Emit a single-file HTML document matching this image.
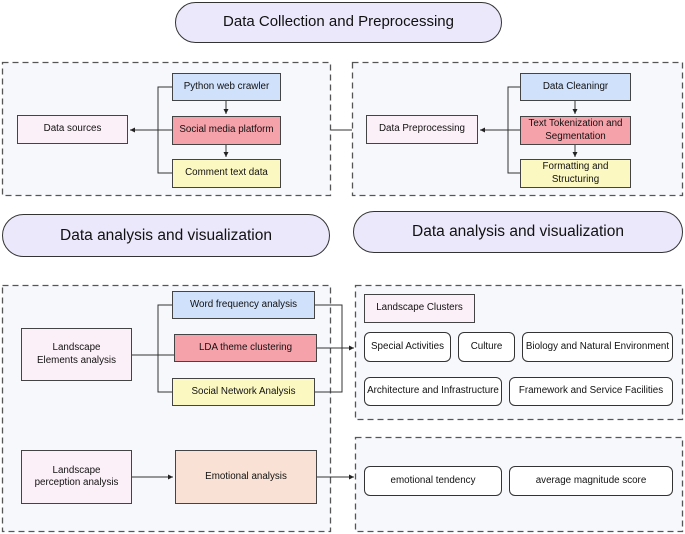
<!DOCTYPE html>
<html><head><meta charset="utf-8"><style>
body{margin:0;width:685px;height:534px;background:#fff;position:relative;overflow:hidden;font-family:"Liberation Sans",sans-serif;}
.a{position:absolute;box-sizing:border-box;display:flex;align-items:center;justify-content:center;text-align:center;font-size:9.8px;color:#111;line-height:1.25;}
.pill{background:#ece8fb;border:1.3px solid #333;border-radius:22px;font-size:15px;}
.n{border:1.2px solid #444;}
.blue{background:#d0e1fb}.red{background:#f6a2aa}.yel{background:#fcf8c2}.pink{background:#fcf0f8}.peach{background:#f9e2d5}
.chip{background:#fff;border:1.2px solid #333;border-radius:6px;}
svg{position:absolute;left:0;top:0}
</style></head><body>
<svg width="685" height="534">
<g stroke="#555" stroke-width="1.3" fill="#f7f8fc" stroke-dasharray="6 4">
<rect x="2.5" y="62.5" width="328" height="133"/>
<rect x="352.5" y="62.5" width="330" height="133"/>
<rect x="2.5" y="285.5" width="328" height="246"/>
<rect x="355.5" y="285.5" width="327" height="134"/>
<rect x="355.5" y="437.5" width="327" height="94"/>
</g></svg>
<div class="a pill" style="left:175px;top:2px;width:327px;height:41px">Data Collection and Preprocessing</div>
<div class="a pill" style="left:2px;top:214px;width:328px;height:43px;font-size:15.5px">Data analysis and visualization</div>
<div class="a pill" style="left:353px;top:211px;width:330px;height:42px;font-size:15.5px">Data analysis and visualization</div>

<svg width="685" height="534">
<defs><marker id="ar" markerWidth="6" markerHeight="6" refX="5" refY="3" orient="auto"><path d="M0,0.5L5,3L0,5.5z" fill="#222"/></marker></defs>
<g stroke="#333" stroke-width="1" fill="none">
<path d="M172,87H158V173H172M172,130H130" marker-end="url(#ar)"/>
<path d="M226,101V114" marker-end="url(#ar)"/><path d="M226,145V157" marker-end="url(#ar)"/>
<path d="M520,87H508V173H520M520,130H480" marker-end="url(#ar)"/>
<path d="M575,101V114" marker-end="url(#ar)"/><path d="M575,145V157" marker-end="url(#ar)"/>
<path d="M331,130H352"/>
<path d="M172,305H158V392H172M132,355H174"/>
<path d="M315,305H342V392H315"/>
<path d="M317,348H354" marker-end="url(#ar)"/>
<path d="M132,477H173" marker-end="url(#ar)"/>
<path d="M317,477H354" marker-end="url(#ar)"/>
</g></svg>

<div class="a n blue" style="left:172px;top:73px;width:109px;height:28px">Python web crawler</div>
<div class="a n red" style="left:172px;top:116px;width:109px;height:29px">Social media platform</div>
<div class="a n yel" style="left:172px;top:159px;width:109px;height:29px">Comment text data</div>
<div class="a n pink" style="left:17px;top:115px;width:111px;height:29px">Data sources</div>
<div class="a n blue" style="left:520px;top:73px;width:111px;height:28px">Data Cleaningr</div>
<div class="a n red" style="left:520px;top:116px;width:111px;height:29px">Text Tokenization and Segmentation</div>
<div class="a n yel" style="left:520px;top:159px;width:111px;height:29px">Formatting and Structuring</div>
<div class="a n pink" style="left:366px;top:115px;width:112px;height:29px">Data Preprocessing</div>

<div class="a n blue" style="left:172px;top:291px;width:143px;height:28px">Word frequency analysis</div>
<div class="a n red" style="left:174px;top:334px;width:143px;height:28px">LDA theme clustering</div>
<div class="a n yel" style="left:172px;top:378px;width:143px;height:28px">Social Network Analysis</div>
<div class="a n pink" style="left:21px;top:328px;width:111px;height:53px">Landscape<br>Elements analysis</div>
<div class="a n pink" style="left:364px;top:294px;width:111px;height:29px">Landscape Clusters</div>
<div class="a chip" style="left:364px;top:332px;width:87px;height:30px">Special Activities</div>
<div class="a chip" style="left:458px;top:332px;width:57px;height:30px">Culture</div>
<div class="a chip" style="left:522px;top:332px;width:151px;height:30px">Biology and Natural Environment</div>
<div class="a chip" style="left:364px;top:377px;width:138px;height:29px">Architecture and Infrastructure</div>
<div class="a chip" style="left:509px;top:377px;width:164px;height:29px">Framework and Service Facilities</div>
<div class="a n pink" style="left:21px;top:450px;width:111px;height:54px">Landscape<br>perception analysis</div>
<div class="a n peach" style="left:175px;top:450px;width:142px;height:54px">Emotional analysis</div>
<div class="a chip" style="left:364px;top:466px;width:138px;height:30px">emotional tendency</div>
<div class="a chip" style="left:509px;top:466px;width:164px;height:30px">average magnitude score</div>
</body></html>
